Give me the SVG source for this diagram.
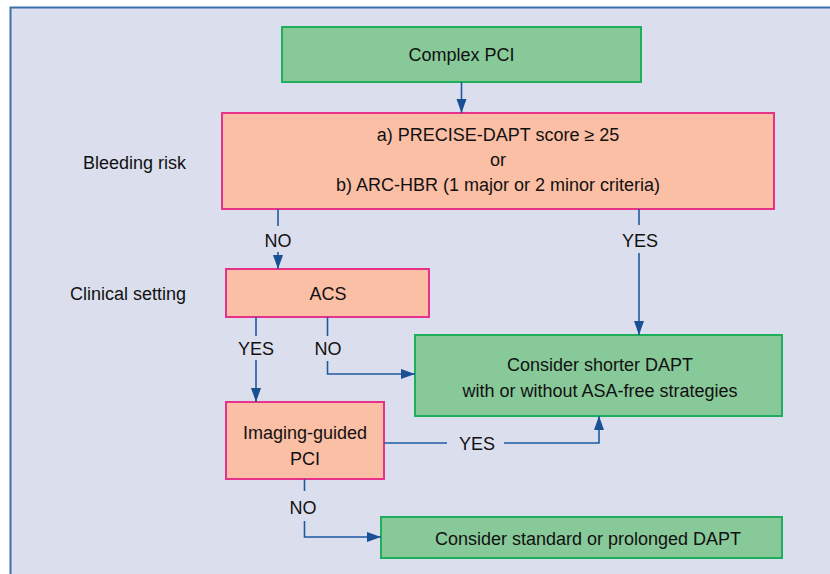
<svg xmlns="http://www.w3.org/2000/svg" width="830" height="574" viewBox="0 0 830 574">
<defs>
<style>
.t{font-family:"Liberation Sans",Arial,sans-serif;font-size:18px;fill:#111;text-anchor:middle}
.l{font-family:"Liberation Sans",Arial,sans-serif;font-size:18px;fill:#111}
.g{fill:#88c999;stroke:#1fae5c;stroke-width:2}
.p{fill:#fbbfa5;stroke:#e8318a;stroke-width:2}
.c{fill:none;stroke:#1f5a9e;stroke-width:1.6}
</style>
<marker id="ah" markerUnits="userSpaceOnUse" markerWidth="15" markerHeight="11" refX="14" refY="5" orient="auto">
<path d="M0,0 L14,5 L0,10 z" fill="#1a4f94"/>
</marker>
</defs>
<rect x="0" y="0" width="830" height="574" fill="#ffffff"/>
<rect x="10.5" y="7.5" width="830" height="580" fill="#dbdfed" stroke="#3d70aa" stroke-width="2"/>
<text class="l" x="83" y="169">Bleeding risk</text>
<text class="l" x="70" y="300">Clinical setting</text>
<g id="complex-pci"><rect class="g" x="282" y="27" width="359" height="55"/><text class="t" x="461.5" y="61">Complex PCI</text></g>
<g id="bleeding"><rect class="p" x="222" y="113" width="552" height="96"/><text class="t" x="498" y="141">a) PRECISE-DAPT score ≥ 25</text><text class="t" x="498" y="166">or</text><text class="t" x="498" y="191">b) ARC-HBR (1 major or 2 minor criteria)</text></g>
<g id="acs"><rect class="p" x="226" y="269" width="203" height="48"/><text class="t" x="328" y="300">ACS</text></g>
<g id="shorter"><rect class="g" x="415" y="335" width="367" height="81"/><text class="t" x="600" y="371">Consider shorter DAPT</text><text class="t" x="600" y="397">with or without ASA-free strategies</text></g>
<g id="imaging"><rect class="p" x="226" y="402" width="158" height="77"/><text class="t" x="305" y="439">Imaging-guided</text><text class="t" x="305" y="465">PCI</text></g>
<g id="standard"><rect class="g" x="381" y="517" width="401" height="41"/><text class="t" x="588" y="545">Consider standard or prolonged DAPT</text></g>
<g id="connectors">
<path class="c" d="M461.5,82 V113" marker-end="url(#ah)"/>
<path class="c" d="M278,209 V226"/>
<path class="c" d="M278,252 V269" marker-end="url(#ah)"/>
<path class="c" d="M639,209 V225"/>
<path class="c" d="M639,253 V335" marker-end="url(#ah)"/>
<path class="c" d="M256,317 V336"/>
<path class="c" d="M256,360 V402" marker-end="url(#ah)"/>
<path class="c" d="M327.5,317 V336"/>
<path class="c" d="M327.5,361 V374 H415" marker-end="url(#ah)"/>
<path class="c" d="M384,443 H447"/>
<path class="c" d="M504,443 H599 V416" marker-end="url(#ah)"/>
<path class="c" d="M304.5,479 V491"/>
<path class="c" d="M304.5,521 V537 H381" marker-end="url(#ah)"/>
<text class="t" x="278" y="247">NO</text>
<text class="t" x="640" y="247">YES</text>
<text class="t" x="256" y="355">YES</text>
<text class="t" x="328" y="355">NO</text>
<text class="t" x="477" y="450">YES</text>
<text class="t" x="303" y="514">NO</text>
</g>
</svg>
